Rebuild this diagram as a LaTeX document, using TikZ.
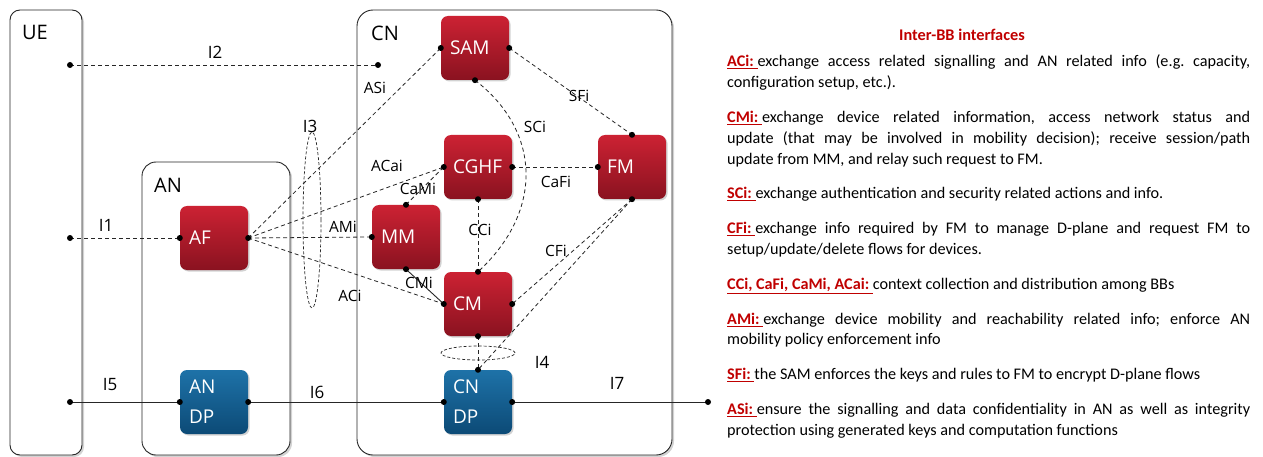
\documentclass[tikz,border=0pt]{standalone}
\usepackage{fontspec}
\setmainfont{Carlito}
\newfontfamily\lblfont{Open Sans}
\usetikzlibrary{shadows}
\definecolor{bbred}{HTML}{C00000}
\definecolor{redtop}{HTML}{CC2233}
\definecolor{redbot}{HTML}{8A1220}
\definecolor{bluetop}{HTML}{1E72A8}
\definecolor{bluebot}{HTML}{0C4A76}
\definecolor{linegray}{HTML}{262626}
\newcommand\blab[1]{\textcolor{bbred}{\textbf{\underline{#1\ }}}}
\begin{document}
\begin{tikzpicture}[x=1pt,y=-1pt,
  domainbox/.style={draw=linegray, line width=0.9pt, fill=white,
    drop shadow={shadow xshift=2pt, shadow yshift=-2pt, opacity=0.35}},
  bbnode/.style={rounded corners=7pt, minimum width=68pt, minimum height=64pt,
    text=white, font=\lblfont\fontsize{19}{30}\selectfont, text width=50pt, align=left,
    drop shadow={shadow xshift=1.5pt, shadow yshift=-1.5pt, opacity=0.35}},
  redbb/.style={bbnode, top color=redtop, bottom color=redbot},
  bluebb/.style={bbnode, top color=bluetop, bottom color=bluebot},
  dashlink/.style={draw=linegray, line width=0.8pt, dash pattern=on 4pt off 3pt},
  solidlink/.style={draw=linegray, line width=0.9pt},
  biglabel/.style={font=\lblfont\fontsize{20}{24}\selectfont},
  ilabel/.style={font=\lblfont\fontsize{17}{20}\selectfont},
  smalllabel/.style={font=\lblfont\fontsize{15.5}{18}\selectfont},
  dotmark/.style={fill=black}
]
\useasboundingbox (0,0) rectangle (1263,457);
% domain boxes
\draw[domainbox, rounded corners=10pt] (10,10) rectangle (82,455);
\draw[domainbox, rounded corners=14pt] (142,162) rectangle (290,455);
\draw[domainbox, rounded corners=16pt] (357,10) rectangle (672,455);
\node[biglabel] (ue) at (35,32) {UE};
\node[biglabel] (an) at (168,185) {AN};
\node[biglabel] (cn) at (385,33) {CN};

% building blocks
\node[redbb] (SAM) at (475,48) {SAM};
\node[redbb] (CGHF) at (478,167) {CGHF};
\node[redbb] (FM) at (632,167) {FM};
\node[redbb] (MM) at (406,237) {MM};
\node[redbb] (CM) at (478,304) {CM};
\node[redbb] (AF) at (214,238) {AF};
\node[bluebb] (ANDP) at (214,402) {AN\\DP};
\node[bluebb] (CNDP) at (478,402) {CN\\DP};

% free end points
\coordinate (u2) at (70,65);
\coordinate (u1) at (70,238);
\coordinate (u5) at (70,402);
\coordinate (i2end) at (378,65);
\coordinate (i7end) at (708,402);

% interfaces
\draw[dashlink] (u2) -- (i2end);
\draw[dashlink] (u1) -- (AF.west);
\draw[solidlink] (u5) -- (ANDP.west);
\draw[solidlink] (ANDP.east) -- (CNDP.west);
\draw[solidlink] (CNDP.east) -- (i7end);

\draw[dashlink] (AF.east) -- (SAM.west);
\draw[dashlink] (AF.east) -- (CGHF.west);
\draw[dashlink] (AF.east) -- (MM.west);
\draw[dashlink] (AF.east) -- (CM.west);
\draw[dashlink] (MM.north) -- (CGHF.west);
\draw[solidlink] (MM.south) -- (CM.west);
\draw[dashlink] (CGHF.south) -- (CM.north);
\draw[dashlink] (SAM.south) .. controls (540,130) and (545,210) .. (CM.north);
\draw[dashlink] (SAM.east) -- (FM.north);
\draw[dashlink] (CGHF.east) -- (FM.west);
\draw[dashlink] (FM.south) -- (CM.east);
\draw[dashlink] (FM.south) -- (CNDP.north);
\draw[dashlink] (CM.south) -- (CNDP.north);

% ellipses
\draw[draw=linegray, line width=0.7pt, dash pattern=on 3pt off 2pt] (312,220) ellipse [x radius=9pt, y radius=88pt];
\draw[draw=linegray, line width=0.7pt, dash pattern=on 3pt off 2pt] (478,353) ellipse [x radius=37pt, y radius=7pt];

% dots
\foreach \p in {u1,u2,u5,i2end,i7end,AF.west,AF.east,ANDP.west,ANDP.east,CNDP.west,CNDP.east,CNDP.north,
  SAM.west,SAM.east,SAM.south,CGHF.west,CGHF.east,CGHF.south,FM.north,FM.west,FM.south,
  MM.west,MM.north,MM.south,CM.west,CM.east,CM.north,CM.south}
  \fill[dotmark] (\p) circle (3pt);

% labels
\node[ilabel] (lI2) at (215,52) {I2};
\node[ilabel] (lI1) at (106,225) {I1};
\node[ilabel] (lI5) at (110,385) {I5};
\node[ilabel] (lI6) at (317,392) {I6};
\node[ilabel] (lI7) at (617,383) {I7};
\node[ilabel] (lI4) at (542,362) {I4};
\node[ilabel] (lI3) at (310,126) {I3};
\node[smalllabel] (lASi) at (375,88) {ASi};
\node[smalllabel] (lSFi) at (579,96) {SFi};
\node[smalllabel] (lSCi) at (535,127) {SCi};
\node[smalllabel] (lACai) at (387,166) {ACai};
\node[smalllabel] (lCaMi) at (418,189) {CaMi};
\node[smalllabel] (lCaFi) at (556,182) {CaFi};
\node[smalllabel] (lAMi) at (343,227) {AMi};
\node[smalllabel] (lCCi) at (480,230) {CCi};
\node[smalllabel] (lCFi) at (556,251) {CFi};
\node[smalllabel] (lCMi) at (419,283) {CMi};
\node[smalllabel] (lACi) at (350,296) {ACi};

% description panel
\node[anchor=base, text=bbred, font=\bfseries\fontsize{16.3}{19}\selectfont] (title) at (962,41) {Inter-BB interfaces};
\node[anchor=base west, text width=523pt, align=justify, inner sep=0pt,
  font=\fontsize{16.2}{20.8}\selectfont] (desc) at (727,67) {%
\setlength{\parskip}{14pt}\hyphenpenalty=10000\exhyphenpenalty=10000\frenchspacing
\blab{ACi:}exchange access related signalling and AN related info (e.g. capacity,\linebreak configuration setup, etc.).\par
\blab{CMi:}exchange device related information, access network status and\linebreak update (that may be involved in mobility decision); receive session/path\linebreak update from MM, and relay such request to FM.\par
\blab{SCi:}exchange authentication and security related actions and info.\par
\blab{CFi:}exchange info required by FM to manage D-plane and request FM to\linebreak setup/update/delete flows for devices.\par
\blab{CCi, CaFi, CaMi, ACai:}context collection and distribution among BBs\par
\blab{AMi:}exchange device mobility and reachability related info; enforce AN\linebreak mobility policy enforcement info\par
\blab{SFi:}the SAM enforces the keys and rules to FM to encrypt D-plane flows\par
\blab{ASi:}ensure the signalling and data confidentiality in AN as well as integrity\linebreak protection using generated keys and computation functions\par};
\end{tikzpicture}
\end{document}
